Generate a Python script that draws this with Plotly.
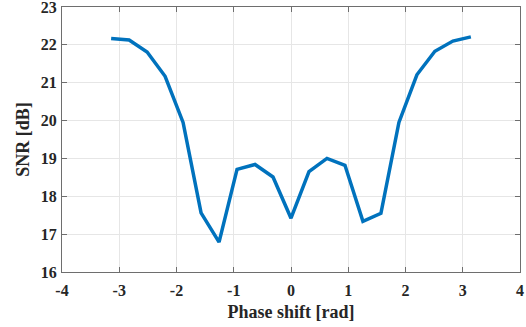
import numpy as np
import plotly.graph_objects as go

phase = [-3.1416, -2.8274, -2.5133, -2.1991, -1.8850, -1.5708, -1.2566, -0.9425, -0.6283, -0.3142,
         0.0, 0.3142, 0.6283, 0.9425, 1.2566, 1.5708, 1.8850, 2.1991, 2.5133, 2.8274, 3.1416]
snr = [22.17, 22.13, 21.81, 21.17, 19.95, 17.56, 16.79, 18.71, 18.84, 18.51,
       17.42, 18.65, 19.00, 18.82, 17.34, 17.55, 19.95, 21.21, 21.83, 22.10, 22.21]

x_ticks = [-4, -3, -2, -1, 0, 1, 2, 3, 4]
y_ticks = [16, 17, 18, 19, 20, 21, 22, 23]

fig = go.Figure(go.Scatter(x=phase, y=snr, mode="lines",
                           line=dict(color="#0072BD", width=3.5)))

fam = "Liberation Serif, Times New Roman, serif"
txt = "#262626"
font = dict(family=fam, size=16, color=txt)
axis_common = dict(showgrid=True, gridcolor="#E6E6E6", gridwidth=1,
                   showline=True, linecolor="#6E6E6E", linewidth=1.2, mirror="ticks",
                   ticks="inside", ticklen=5, tickcolor="#6E6E6E", tickwidth=1.2, zeroline=False,
                   automargin=False, ticklabeloverflow="allow",
                   tickfont=dict(family=fam, size=16, color=txt, weight="bold"))

fig.update_layout(
    width=526, height=327,
    margin=dict(l=62, r=6, t=7, b=55),
    paper_bgcolor="white", plot_bgcolor="white",
    showlegend=False,
    font=font,
    xaxis=dict(range=[-4, 4], tickvals=x_ticks, ticktext=[str(v) for v in x_ticks],
               ticklabelstandoff=4,
               title=dict(text="Phase shift [rad]", font=dict(size=18, family=fam, color=txt, weight="bold"), standoff=7),
               **axis_common),
    yaxis=dict(range=[16, 23], tickvals=y_ticks, ticktext=[str(v) for v in y_ticks],
               ticklabelstandoff=1,
               title=dict(text="SNR [dB]", font=dict(size=18, family=fam, color=txt, weight="bold"), standoff=6),
               **axis_common),
)

fig.write_html("out.html", config={"displayModeBar": False},
               post_script="document.body.style.margin='0';document.body.style.overflow='hidden';")
